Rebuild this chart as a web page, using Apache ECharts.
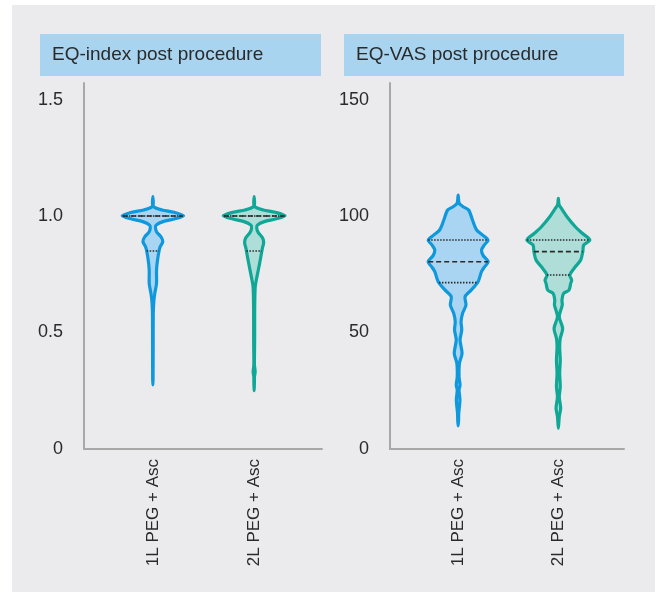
<!DOCTYPE html>
<html>
<head>
<meta charset="utf-8">
<script src="https://cdn.jsdelivr.net/npm/echarts@6/dist/echarts.min.js"></script>
<style>
html,body{margin:0;padding:0;background:#ffffff;}
#chart{width:660px;height:592px;}
</style>
</head>
<body>
<div id="chart"></div>
<script>
// ---------- data ----------
const categories = ['1L PEG + Asc', '2L PEG + Asc'];
const titles = ['EQ-index post procedure', 'EQ-VAS post procedure'];
const indexTicks = [0, 0.5, 1.0, 1.5];
const vasTicks = [0, 50, 100, 150];

// violin profiles: [value, half-width of density (hundredths of a category step)]
const index1L = [[1.083,0],[1.06,0.4],[1.04,0.7],[1.026,9],[1.016,21],[1.001,30.3],[0.987,21],[0.976,10],
  [0.961,3.2],[0.947,2.6],[0.93,4],[0.911,8],[0.89,9.8],[0.868,7.2],[0.854,6.3],[0.811,4.6],[0.768,3.6],
  [0.711,3.6],[0.668,1.9],[0.632,0.9],[0.58,0.4],[0.45,0.3],[0.3,0.2],[0.275,0]];
const index2L = [[1.083,0],[1.06,0.4],[1.04,0.7],[1.026,9],[1.016,21],[1.001,30.5],[0.987,21],[0.976,10],
  [0.961,3.2],[0.947,2.6],[0.93,4],[0.905,8.5],[0.885,9.4],[0.865,8.3],[0.854,7.8],[0.797,5.4],[0.74,2.8],
  [0.697,1.1],[0.625,0.6],[0.55,0.5],[0.48,0.5],[0.425,0.4],[0.36,0.3],[0.332,1.0],[0.31,0.3],[0.296,0.3],[0.25,0]];
const vas1L = [[109,0],[105.5,1],[104,5],[102.6,10.5],[98.3,14.3],[94,18.5],[91.1,26.6],[89.7,29.9],[87.5,26],
  [85.4,23.3],[83,25],[80.4,29.9],[78,26],[76.1,23.3],[71.8,19.9],[68.2,13],[65.4,6.9],[61.8,7.8],[58.2,4.4],
  [54.6,2.9],[51.1,3.6],[46.8,1.9],[41.1,3.9],[36.8,1.3],[31,0.9],[27.5,1.9],[25.3,0.9],[21,1.8],[15.3,0.6],
  [12,0.4],[9.9,0]];
const vas2L = [[107.6,0],[104.7,0.8],[103,3.5],[99.7,8.6],[95.4,16.9],[92.6,23.9],[89.7,31.4],[87.6,25.3],
  [84.7,24.4],[81.1,22.3],[78.2,16.9],[74.7,11.4],[72.5,13.3],[71.1,12.3],[68.2,10.6],[66.8,5.3],[63.9,3.6],
  [61.8,3.9],[56.8,0.9],[51.8,4.3],[47.5,1.9],[43.9,1.3],[38.2,1.9],[32.5,1.3],[26.7,1.9],[22.4,0.9],
  [17.5,2.3],[13.9,0.9],[8.9,0]];

const indexMedian = [1.0, 1.0];
const indexQ1 = [0.85, 0.85];
const indexQ3 = [1.0, 1.0];
const vasMedian = [80.4, 84.7];
const vasQ1 = [71.4, 74.7];
const vasQ3 = [89.7, 89.7];

// ---------- styles ----------
const strokeColors = ['#0f98dc', '#10a796'];
const fillColors = ['#a9d4f2', '#afddd8'];
const axisColor = '#a8a8a8';
const textColor = '#2a2a2a';
const FONT = '"Liberation Sans", Arial, sans-serif';

function hwAt(prof, v) {
  for (let k = 0; k < prof.length - 1; k++) {
    const a = prof[k], b = prof[k + 1];
    if (v <= a[0] && v >= b[0]) {
      const t = (a[0] - v) / (a[0] - b[0] || 1);
      return a[1] + t * (b[1] - a[1]);
    }
  }
  return 0;
}

function makeRender(profiles, medians, q1s, q3s) {
  return function (params, api) {
    const i = params.dataIndex;
    const xc = api.value(0);
    const prof = profiles[i];
    const pts = [];
    for (const [v, w] of prof) pts.push(api.coord([xc - w / 100, v]));
    for (let k = prof.length - 2; k >= 1; k--) {
      const [v, w] = prof[k];
      pts.push(api.coord([xc + w / 100, v]));
    }
    function hline(v, dash) {
      const w = hwAt(prof, v) / 100;
      const p1 = api.coord([xc - w, v]);
      const p2 = api.coord([xc + w, v]);
      return {
        type: 'line',
        shape: { x1: p1[0], y1: p1[1], x2: p2[0], y2: p2[1] },
        style: { stroke: '#2a2a2a', lineWidth: 1.6, lineDash: dash }
      };
    }
    return {
      type: 'group',
      children: [
        {
          type: 'polygon',
          shape: { points: pts, smooth: 0.28 },
          style: { fill: fillColors[i], stroke: strokeColors[i], lineWidth: 3.2, lineJoin: 'round' }
        },
        hline(q3s[i], [1.5, 1.5]),
        hline(q1s[i], [1.5, 1.5]),
        hline(medians[i], [5, 3])
      ]
    };
  };
}

const chart = echarts.init(document.getElementById('chart'), null, { renderer: 'canvas' });

function xAxisCfg(gridIndex, max) {
  return {
    type: 'value', gridIndex: gridIndex, min: 0.32, max: max,
    axisLine: { show: true, onZero: false, lineStyle: { color: axisColor, width: 2 } },
    axisTick: { show: false },
    splitLine: { show: false },
    axisLabel: {
      customValues: [1, 2],
      formatter: v => categories[Math.round(v) - 1] || '',
      rotate: 90, margin: 10, fontSize: 17, color: textColor, fontFamily: FONT
    }
  };
}
function yAxisCfg(gridIndex, max, ticks, fmt) {
  return {
    type: 'value', gridIndex: gridIndex, min: 0, max: max,
    axisLine: { show: true, lineStyle: { color: axisColor, width: 2 } },
    axisTick: { show: false },
    splitLine: { show: false },
    axisLabel: {
      customValues: ticks, formatter: fmt,
      margin: 21, fontSize: 18, color: textColor, fontFamily: FONT
    }
  };
}

const option = {
  backgroundColor: '#ffffff',
  animation: false,
  graphic: [
    { type: 'rect', z: -10, silent: true, shape: { x: 12, y: 5, width: 643, height: 587 }, style: { fill: '#ebebee' } },
    { type: 'rect', shape: { x: 40, y: 34, width: 281, height: 42 }, style: { fill: '#a9d4f0' } },
    { type: 'text', x: 52, y: 55, style: { text: titles[0], fontSize: 19, fontFamily: FONT, fill: textColor, verticalAlign: 'middle' } },
    { type: 'rect', shape: { x: 344, y: 34, width: 280, height: 42 }, style: { fill: '#a9d4f0' } },
    { type: 'text', x: 356, y: 55, style: { text: titles[1], fontSize: 19, fontFamily: FONT, fill: textColor, verticalAlign: 'middle' } }
  ],
  grid: [
    { left: 84, top: 83, width: 238, height: 366 },
    { left: 390, top: 83, width: 234, height: 366 }
  ],
  xAxis: [xAxisCfg(0, 2.67), xAxisCfg(1, 2.655)],
  yAxis: [
    yAxisCfg(0, 1.571, indexTicks, v => (v === 0 ? '0' : v.toFixed(1))),
    yAxisCfg(1, 157.1, vasTicks, v => String(v))
  ],
  series: [
    {
      type: 'custom', xAxisIndex: 0, yAxisIndex: 0,
      renderItem: makeRender([index1L, index2L], indexMedian, indexQ1, indexQ3),
      data: [[1], [2]], encode: { x: 0 }
    },
    {
      type: 'custom', xAxisIndex: 1, yAxisIndex: 1,
      renderItem: makeRender([vas1L, vas2L], vasMedian, vasQ1, vasQ3),
      data: [[1], [2]], encode: { x: 0 }
    }
  ]
};
chart.setOption(option);
</script>
</body>
</html>
